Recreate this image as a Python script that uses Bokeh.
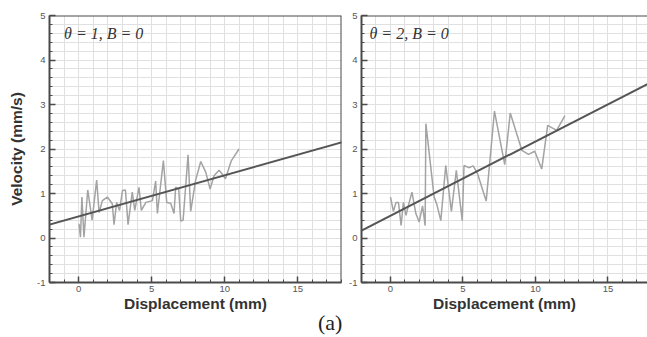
from bokeh.plotting import figure
from bokeh.layouts import row, column
from bokeh.models import (Range1d, SingleIntervalTicker, Slope, Label, Span, ColumnDataSource,
                          PrintfTickFormatter, Div)
from bokeh.embed import file_html
from bokeh.resources import INLINE

# ---------------- data ----------------
left_x = [0.02, 0.12, 0.22, 0.36, 0.62, 0.92, 1.23, 1.40, 1.62, 1.96, 2.30, 2.42, 2.60, 2.80,
          3.00, 3.20, 3.38, 3.67, 3.84, 4.13, 4.29, 4.60, 5.05, 5.27, 5.39, 5.80, 6.03, 6.30,
          6.53, 6.64, 6.85, 6.99, 7.15, 7.49, 7.67, 8.01, 8.36, 8.70, 9.00, 9.27, 9.61, 9.80,
          10.05, 10.46, 10.98]
left_y = [0.32, 0.02, 0.92, 0.02, 1.08, 0.40, 1.30, 0.57, 0.84, 0.92, 0.77, 0.30, 0.80, 0.62,
          1.07, 1.08, 0.30, 1.03, 0.62, 1.14, 0.62, 0.80, 0.84, 1.28, 0.55, 1.74, 0.80, 0.78,
          0.55, 1.14, 1.10, 0.38, 0.40, 1.87, 0.60, 1.30, 1.72, 1.48, 1.10, 1.40, 1.52, 1.45,
          1.33, 1.74, 2.00]
right_x = [0.00, 0.20, 0.38, 0.55, 0.73, 0.89, 1.07, 1.25, 1.48, 1.75, 1.98, 2.21, 2.39, 2.44,
           3.01, 3.20, 3.47, 3.81, 4.20, 4.54, 4.95, 5.07, 5.40, 5.70, 6.00, 6.60, 7.17, 7.88,
           8.26, 9.06, 9.52, 9.95, 10.43, 10.84, 11.46, 12.03]
right_y = [0.92, 0.60, 0.80, 0.80, 0.28, 0.80, 0.51, 0.75, 1.03, 0.55, 0.36, 0.72, 0.28, 2.57,
           0.92, 0.75, 0.39, 1.63, 0.60, 1.52, 0.39, 1.63, 1.58, 1.62, 1.45, 0.83, 2.85, 1.65,
           2.81, 1.97, 1.88, 1.95, 1.55, 2.53, 2.42, 2.75]
fit_slope = [0.0925, 0.167]
fit_intercept = [0.485, 0.50]
panel_titles = ["θ = 1, B = 0", "θ = 2, B = 0"]
x_label = "Displacement (mm)"
y_label = "Velocity (mm/s)"
caption = "(a)"

DARK = "#4a4a4a"
GRID = "#e0e0e0"
DATA = "#a3a3a3"
SANS = "Liberation Sans"
SERIF = "Liberation Serif"
FIG_H = 316


def make_panel(xs, ys, slope, intercept, title, width, x_end, border_left, border_right,
               with_ylabel, title_x):
    p = figure(width=width, height=FIG_H, output_backend="svg", toolbar_location=None,
               x_range=Range1d(-2, x_end), y_range=Range1d(-1, 5),
               min_border_left=border_left, min_border_right=border_right,
               min_border_top=15, min_border_bottom=FIG_H - 282)
    p.background_fill_color = "white"
    p.border_fill_color = "white"
    p.xaxis.ticker = SingleIntervalTicker(interval=5, num_minor_ticks=5)
    p.yaxis.ticker = SingleIntervalTicker(interval=1, num_minor_ticks=5)
    for ax in (p.xaxis, p.yaxis):
        ax.formatter = PrintfTickFormatter(format="%d")
        ax.major_tick_in = 6
        ax.major_tick_out = 0
        ax.minor_tick_in = 3
        ax.minor_tick_out = 0
        ax.major_tick_line_color = DARK
        ax.major_tick_line_width = 1.5
        ax.minor_tick_line_color = DARK
        ax.minor_tick_line_width = 1
        ax.axis_line_color = DARK
        ax.axis_line_width = 2
        ax.major_label_text_font = SANS
        ax.major_label_text_font_size = "9.5px"
        ax.major_label_text_color = "#555555"
        ax.axis_label_text_font = SANS
        ax.axis_label_text_font_style = "bold"
        ax.axis_label_text_font_size = "15.5px"
        ax.axis_label_text_color = "#333333"
    p.xaxis.major_label_standoff = 3
    p.yaxis.major_label_standoff = 4
    p.xaxis.axis_label = x_label
    p.xaxis.axis_label_standoff = 0
    if with_ylabel:
        p.yaxis.axis_label = y_label
        p.yaxis.axis_label_standoff = 9
    for g in (p.xgrid, p.ygrid):
        g.grid_line_color = GRID
        g.minor_grid_line_color = GRID
        g.grid_line_width = 1
        g.minor_grid_line_width = 1
    p.outline_line_color = None
    p.add_layout(Span(location=5, dimension="width", line_color=DARK, line_width=2))

    src = ColumnDataSource(dict(x=xs, y=ys))
    p.line("x", "y", source=src, line_color=DATA, line_width=1.5)
    p.add_layout(Slope(gradient=slope, y_intercept=intercept, line_color="#555555", line_width=2))
    p.add_layout(Label(x=title_x, y=4.78, text=title, text_font=SERIF, text_font_style="italic",
                       text_font_size="16px", text_color="#333333", text_baseline="top"))
    return p


p1 = make_panel(left_x, left_y, fit_slope[0], fit_intercept[0], panel_titles[0],
                width=346, x_end=18, border_left=49, border_right=5, with_ylabel=True,
                title_x=-1.0)
p1.add_layout(Span(location=18, dimension="height", line_color=DARK, line_width=2))

p2 = make_panel(right_x, right_y, fit_slope[1], fit_intercept[1], panel_titles[1],
                width=301, x_end=-2 + 288 / 14.6, border_left=13, border_right=0,
                with_ylabel=False, title_x=-1.45)

cap = Div(text=f'<div style="font-family:\'Liberation Serif\';font-size:22px;line-height:14px;'
               f'color:#222;padding-left:318px;">{caption}</div>',
          width=647, height=20, margin=(0, 0, 0, 0))

layout = column(row(p1, p2, spacing=0), cap, spacing=0)
open("out.html", "w").write(file_html(layout, INLINE))
